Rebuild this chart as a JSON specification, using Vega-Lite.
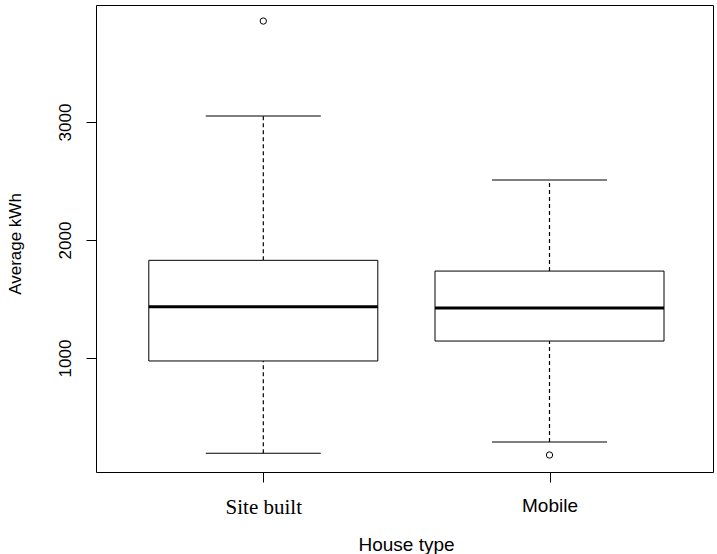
{
  "$schema": "https://vega.github.io/schema/vega-lite/v6.json",
  "width": 617,
  "height": 467,
  "autosize": {"type": "none"},
  "padding": {"left": 96, "top": 5, "right": 4, "bottom": 82},
  "background": "white",
  "config": {
    "view": {"stroke": "black", "strokeWidth": 1},
    "axis": {"grid": false, "domain": false, "tickColor": "black", "labelColor": "black", "titleColor": "black", "tickSize": 10, "titleFontWeight": "normal", "labelFont": "Liberation Sans", "titleFont": "Liberation Sans"}
  },
  "datasets": {
    "stats": [
      {"type": "Site built", "lower": 192, "q1": 975, "median": 1435, "q3": 1828, "upper": 3051},
      {"type": "Mobile", "lower": 288, "q1": 1144, "median": 1424, "q3": 1737, "upper": 2508}
    ],
    "outliers": [
      {"type": "Site built", "value": 3856},
      {"type": "Mobile", "value": 178}
    ]
  },
  "encoding": {
    "x": {
      "field": "type", "type": "nominal",
      "sort": ["Site built", "Mobile"],
      "scale": {"type": "point", "range": [167.3, 453.5], "padding": 0},
      "axis": {
        "title": "House type",
        "titleFontSize": 19,
        "titleX": 310,
        "titleY": 78,
        "titleAlign": "center",
        "titleBaseline": "alphabetic",
        "labelAngle": 0,
        "labelAlign": "center",
        "labelBaseline": "alphabetic",
        "labelFont": {"condition": {"test": "datum.value === 'Site built'", "value": "Liberation Serif"}, "value": "Liberation Sans"},
        "labelFontSize": {"condition": {"test": "datum.value === 'Site built'", "value": 21}, "value": 19},
        "labelPadding": {"condition": {"test": "datum.value === 'Site built'", "value": 31}, "value": 29}
      }
    }
  },
  "layer": [
    {
      "data": {"name": "stats"},
      "mark": {"type": "rule", "color": "black", "strokeDash": [4, 3], "strokeWidth": 1.2},
      "encoding": {
        "y": {"field": "lower", "type": "quantitative", "scale": {"domain": [34, 3992], "nice": false, "zero": false},
          "axis": {
            "title": "Average kWh",
            "values": [1000, 2000, 3000],
            "format": "d",
            "titleFontSize": 17,
            "titleAngle": -90,
            "titleX": -76,
            "titleY": 238.5,
            "titleAlign": "center",
            "titleBaseline": "alphabetic",
            "labelAngle": -90,
            "labelAlign": "center",
            "labelBaseline": "alphabetic",
            "labelFontSize": 17,
            "labelPadding": 16
          }},
        "y2": {"field": "q1"}
      }
    },
    {
      "data": {"name": "stats"},
      "mark": {"type": "rule", "color": "black", "strokeDash": [4, 3], "strokeWidth": 1.2},
      "encoding": {
        "y": {"field": "q3", "type": "quantitative"},
        "y2": {"field": "upper"}
      }
    },
    {
      "data": {"name": "stats"},
      "mark": {"type": "tick", "color": "black", "size": 115, "thickness": 1, "opacity": 1},
      "encoding": {"y": {"field": "lower", "type": "quantitative"}}
    },
    {
      "data": {"name": "stats"},
      "mark": {"type": "tick", "color": "black", "size": 115, "thickness": 1, "opacity": 1},
      "encoding": {"y": {"field": "upper", "type": "quantitative"}}
    },
    {
      "data": {"name": "stats"},
      "mark": {"type": "bar", "fill": "white", "stroke": "black", "strokeWidth": 1, "size": 229, "opacity": 1},
      "encoding": {
        "y": {"field": "q1", "type": "quantitative"},
        "y2": {"field": "q3"}
      }
    },
    {
      "data": {"name": "stats"},
      "mark": {"type": "tick", "color": "black", "size": 229, "thickness": 3, "opacity": 1},
      "encoding": {"y": {"field": "median", "type": "quantitative"}}
    },
    {
      "data": {"name": "outliers"},
      "mark": {"type": "point", "shape": "circle", "filled": false, "stroke": "black", "strokeWidth": 1, "size": 40, "opacity": 1},
      "encoding": {"y": {"field": "value", "type": "quantitative"}}
    }
  ]
}
